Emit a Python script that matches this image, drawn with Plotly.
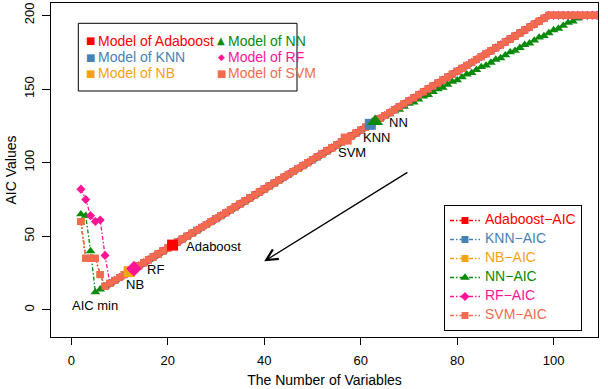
import plotly.graph_objects as go

# ---------------- data ----------------
n_vars = list(range(2, 111))  # number of variables (x)

# first six points (x = 2..7) of each AIC curve
head_ada = [60, 35, 35, 35, 24, 16]
head_knn = [60, 35, 35, 35, 24, 16]
head_nb = [60, 35, 35, 35, 24, 16]
head_nn = [65, 64, 40, 12, 14, 16]
head_rf = [82, 75, 64, 60, 61, 37]
head_svm = [60, 35, 35, 35, 24, 16]

# shared rising part (x = 8..110)
tail_main = [18, 20, 22, 24, 26, 28, 30, 32, 34, 36, 38, 40, 42, 44, 46, 48, 50, 52,
             54, 56, 58, 60, 62, 64, 66, 68, 70, 72, 74, 76, 78, 80, 82, 84, 86, 88,
             90, 92, 94, 96, 98, 100, 102, 104, 106, 108, 110, 112, 114, 116, 118, 120,
             122, 124, 126, 128, 130, 132, 134, 136, 138, 140, 142, 144, 146, 148, 150,
             152, 154, 156, 158, 160, 162, 164, 166, 168, 170, 172, 174, 176, 178, 180,
             182, 184, 186, 188, 190, 192, 194, 196, 198, 200, 200, 200, 200, 200, 200,
             200, 200, 200, 200, 200, 200]
tail_nn = [18, 20, 22, 24, 26, 28, 30, 32, 34, 36, 38, 40, 42, 44, 46, 48, 50, 52,
           54, 56, 58, 60, 62, 64, 66, 68, 70, 72, 74, 76, 78, 80, 82, 84, 86, 88,
           90, 92, 94, 96, 98, 100, 102, 104, 106, 108, 110, 112, 114, 116, 118, 120,
           122, 124, 126, 128, 130, 132, 133, 135, 136, 138, 140, 141, 143, 145, 146,
           148, 150, 151, 153, 155, 156, 158, 160, 161, 163, 165, 166, 168, 170, 171,
           173, 175, 176, 178, 180, 181, 183, 185, 186, 188, 190, 191, 193, 195, 196,
           198, 200, 200, 200, 200, 200]

aic_ada = head_ada + tail_main
aic_knn = head_knn + tail_main
aic_nb = head_nb + tail_main
aic_nn = head_nn + tail_nn
aic_rf = head_rf + tail_main
aic_svm = head_svm + tail_main

# selected model of each method
model_names = ["Adaboost", "KNN", "NB", "NN", "RF", "SVM"]
model_x = [21, 62, 12, 63, 13, 57]
model_y = [44, 126, 26, 128, 28, 116]

x_ticks = [0, 20, 40, 60, 80, 100]
y_ticks = [0, 50, 100, 150, 200]

# ---------------- style ----------------
FONT = "Liberation Sans, Arial, Helvetica, sans-serif"
colors = {"Adaboost": "#FF0000", "KNN": "#4682B4", "NB": "#F5A311",
          "NN": "#0A8A0A", "RF": "#FF1493", "SVM": "#F26B4F"}
symbols = {"Adaboost": "square", "KNN": "square", "NB": "square",
           "NN": "triangle-up", "RF": "diamond", "SVM": "square"}
series = {"Adaboost": aic_ada, "KNN": aic_knn, "NB": aic_nb,
          "NN": aic_nn, "RF": aic_rf, "SVM": aic_svm}

fig = go.Figure()

for name in model_names:
    c = colors[name]
    fig.add_trace(go.Scatter(
        x=n_vars, y=series[name], mode="lines+markers",
        name=f"<span style='font-size:14px;color:{c}'>{name}\u2212AIC</span>",
        line=dict(color=c, width=1.3, dash="4px,2px,1.5px,2px"),
        marker=dict(symbol=symbols[name], color=c,
                    size=8.5 if name == "NN" else 7, line=dict(width=0)),
        legend="legend2",
    ))

for i, name in enumerate(model_names):
    c = colors[name]
    sz = {"NN": 14, "RF": 12}.get(name, 11)
    fig.add_trace(go.Scatter(
        x=[model_x[i]], y=[model_y[i]], mode="markers", showlegend=False,
        marker=dict(symbol=symbols[name], color=c, size=sz, line=dict(width=0)),
    ))

# plot-area pixel geometry helpers (for legend/box placement)
L, R, T, B = 51, 598, 3, 337
def px(xp):
    return (xp - L) / (R - L)
def py(yp):
    return (B - yp) / (B - T)

annotations = []
# point labels
labels = [("Adaboost", 23.3, 43), ("RF", 15.2, 27.4), ("NB", 10.9, 17.2),
          ("AIC min", -0.2, 2.9), ("NN", 65.4, 127.4), ("KNN", 60.0, 117),
          ("SVM", 54.8, 107)]
for t, lx, ly in labels:
    annotations.append(dict(x=lx, y=ly, xref="x", yref="y", text=t, showarrow=False,
                            xanchor="left", yanchor="middle",
                            font=dict(family=FONT, size=13, color="black")))
# arrow
annotations.append(dict(x=40, y=33, ax=70, ay=94, xref="x", yref="y", axref="x", ayref="y",
                        text="", showarrow=True, arrowhead=5, arrowsize=1.7,
                        arrowwidth=1.3, arrowcolor="black"))

# manual two-column legend of selected models
glyph = {"square": "\u25A0", "triangle-up": "\u25B2", "diamond": "\u25C6"}
gsize = {"square": 10, "triangle-up": 10, "diamond": 9}
legend1_layout = [("Adaboost", 90.7, 98.3, 40.7), ("KNN", 90.7, 98.3, 57.3),
                  ("NB", 90.7, 98.3, 73.3), ("NN", 221, 228.3, 40.7),
                  ("RF", 221, 228.3, 57.3), ("SVM", 221, 228.3, 73.3)]
for name, gx, tx, ry in legend1_layout:
    c = colors[name]
    s = symbols[name]
    annotations.append(dict(x=px(gx), y=py(ry), xref="paper", yref="paper",
                            text=glyph[s], showarrow=False, xanchor="center", yanchor="middle",
                            font=dict(family="DejaVu Sans", size=gsize[s], color=c)))
    annotations.append(dict(x=px(tx - 2), y=py(ry), xref="paper", yref="paper",
                            text=f"Model of {name}", showarrow=False,
                            xanchor="left", yanchor="middle",
                            font=dict(family=FONT, size=14, color=c)))

shapes = [dict(type="rect", xref="paper", yref="paper",
               x0=px(78.3), x1=px(297), y0=py(91), y1=py(23.3),
               line=dict(color="black", width=1), fillcolor="white", layer="above")]

fig.update_layout(
    width=608, height=389,
    margin=dict(l=L, r=608 - R, t=T, b=389 - B, autoexpand=False),
    paper_bgcolor="white", plot_bgcolor="white",
    font=dict(family=FONT, size=13, color="black"),
    showlegend=True,
    legend2=dict(x=px(444), y=py(205), xanchor="left", yanchor="top",
                 bordercolor="black", borderwidth=1, bgcolor="white",
                 font=dict(family=FONT, size=8.5, color="black"),
                 tracegroupgap=0, itemclick=False),
    annotations=annotations,
    shapes=shapes,
    xaxis=dict(range=[-4.2, 109.2], tickvals=x_ticks, ticks="outside", ticklen=7,
               tickcolor="black", showline=True, linecolor="black", linewidth=1,
               mirror=True, showgrid=False, zeroline=False, automargin=False,
               ticklabelstandoff=4,
               tickfont=dict(family=FONT, size=13, color="black"),
               title=dict(text="The Number of Variables", standoff=8,
                          font=dict(family=FONT, size=14, color="black"))),
    yaxis=dict(range=[-18.4, 208.4], tickvals=y_ticks, ticks="outside", ticklen=8,
               tickcolor="black", showline=True, linecolor="black", linewidth=1,
               mirror=True, showgrid=False, zeroline=False, tickangle=-90,
               automargin=False, ticklabelstandoff=3,
               tickfont=dict(family=FONT, size=13, color="black"),
               title=dict(text="AIC Values", standoff=1,
                          font=dict(family=FONT, size=14, color="black"))),
)

fig.write_html("out.html", config={"displayModeBar": False},
               post_script="document.body.style.margin='0px';")
